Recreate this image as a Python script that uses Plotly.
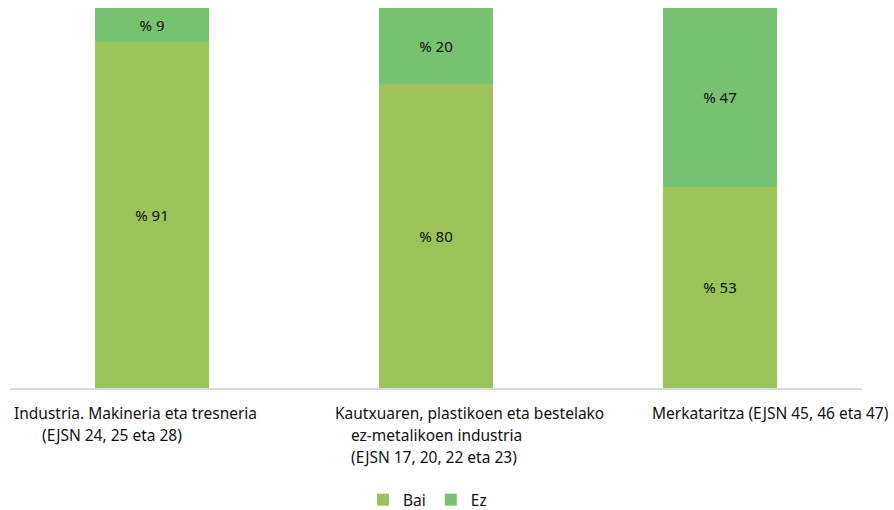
import plotly.graph_objects as go

categories = ["cat1", "cat2", "cat3"]
bai = [91, 80, 53]
ez = [9, 20, 47]
label_lines = [
    ["Industria. Makineria eta tresneria", "(EJSN 24, 25 eta 28)"],
    ["Kautxuaren, plastikoen eta bestelako", "ez-metalikoen industria", "(EJSN 17, 20, 22 eta 23)"],
    ["Merkataritza (EJSN 45, 46 eta 47)"],
]
line_shifts = [[-140, -112], [-103, -87, -87], [-70]]

FONT = "Noto Sans"
fig = go.Figure()
fig.add_trace(go.Bar(x=categories, y=bai, name="Bai", marker_color="#9BC35A",
                     marker_line_width=0,
                     text=[f"% {v}" for v in bai], textposition="inside",
                     insidetextanchor="middle", textangle=0,
                     textfont=dict(color="#111111", size=15, family=FONT)))
fig.add_trace(go.Bar(x=categories, y=ez, name="Ez", marker_color="#76C271",
                     marker_line_width=0,
                     text=[f"% {v}" for v in ez], textposition="inside",
                     insidetextanchor="middle", textangle=0,
                     textfont=dict(color="#111111", size=15, family=FONT)))

for i, lines in enumerate(label_lines):
    for j, line in enumerate(lines):
        fig.add_annotation(x=categories[i], xref="x", y=0, yref="paper",
                           text=line, showarrow=False, xanchor="left",
                           yanchor="middle", xshift=line_shifts[i][j],
                           yshift=-25 - 22 * j,
                           font=dict(size=15.5, color="#111111", family=FONT))

fig.update_layout(
    barmode="stack", bargap=0.6,
    width=894, height=510,
    margin=dict(l=10, r=32, t=8, b=122, autoexpand=False),
    plot_bgcolor="white", paper_bgcolor="white",
    font=dict(family=FONT, color="#111111"),
    showlegend=True,
    hovermode=False,
    legend=dict(orientation="h", x=0.49, xanchor="center", y=-0.295, yanchor="middle",
                font=dict(size=15.5, family=FONT), itemwidth=30, traceorder="normal"),
    uniformtext=dict(mode=False),
)
fig.update_xaxes(range=[-0.5, 2.5], autorange=False, showticklabels=False, showline=True,
                 linecolor="#D9D9D9", linewidth=1.5, ticks="", showgrid=False)
fig.update_yaxes(range=[0, 100], visible=False, showgrid=False)

fig.write_html("out.html",
               config={"displayModeBar": False},
               post_script="document.body.style.margin='0';document.body.style.overflow='hidden';")
